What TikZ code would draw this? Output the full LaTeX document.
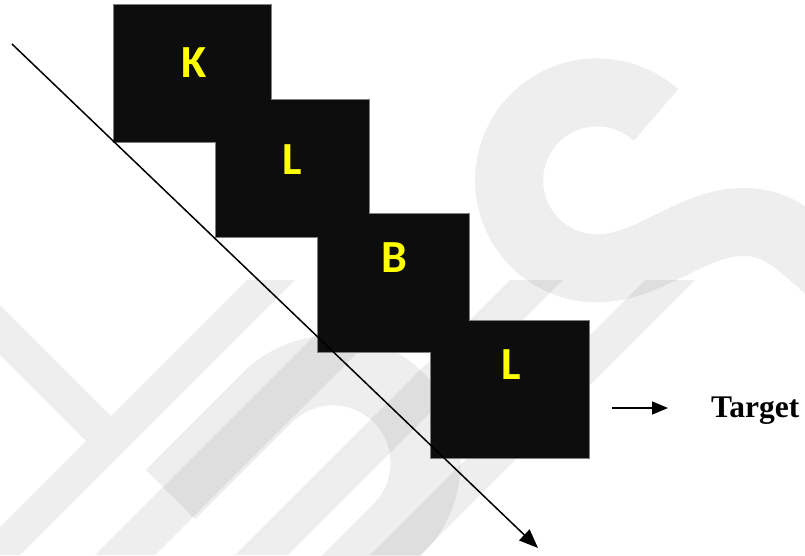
\documentclass[tikz,border=0pt]{standalone}
\usepackage{fontspec}
\setmainfont{Liberation Serif}
\newfontfamily\blockfont{Carlito}
\usetikzlibrary{arrows.meta}
\definecolor{blockblack}{HTML}{0D0D0D}
\definecolor{edgegray}{HTML}{7F7F7F}
\definecolor{letteryellow}{HTML}{FFFF00}
\begin{document}
\begin{tikzpicture}[x=1pt,y=-1pt,
  wmfill/.style={fill=black,fill opacity=0.065,draw=none},
  wmband/.style={draw=black,draw opacity=0.065,line cap=butt,line join=round},
  block/.style={rectangle,inner sep=0pt,outer sep=0pt,anchor=north west,
    fill=blockblack,draw=edgegray,line width=1.6pt},
  letter/.style={inner sep=0pt,text=letteryellow,
    font=\blockfont\bfseries\fontsize{46}{46}\selectfont},
  label/.style={inner sep=0pt,font=\bfseries\fontsize{31.5}{31.5}\selectfont},
  flow/.style={line width=1.5pt,-{Triangle[length=19pt,width=15pt]}},
  pointer/.style={line width=1.5pt,-{Triangle[length=16pt,width=13pt]}}]
\useasboundingbox (0,0) rectangle (805,555);

% light background emblem
\begin{scope}
  \clip (0,0) rectangle (805,555);
  \fill[wmfill] (-10,295) -- (111,416) -- (86,441) -- (-10,345) -- cycle;
  \fill[wmfill] (247,280) -- (295,280) -- (20,555) -- (-28,555) -- cycle;
  \fill[wmfill] (370,280) -- (430,280) -- (155,555) -- (95,555) -- cycle;
  \fill[wmfill] (510,280) -- (563,280) -- (288,555) -- (235,555) -- cycle;
  \fill[wmfill] (645,280) -- (695,280) -- (420,555) -- (370,555) -- cycle;
  \draw[wmband,line width=70pt] (170.5,494.5) -- (267.5,397.5)
    arc[start angle=-135,end angle=45,radius=92.6] -- ++(-200,200);
  \draw[wmband,line width=68pt] (656,115)
    arc[start angle=-48,end angle=-270,radius=88]
    .. controls (650,268) and (690,223) .. (742,222)
    .. controls (780,221) and (800,245) .. (830,270);
\end{scope}

% stepped blocks
\node[block,minimum width=157pt,minimum height=137pt] (b1) at (114,5) {};
\node[block,minimum width=153pt,minimum height=137pt] (b2) at (216,100) {};
\node[block,minimum width=151pt,minimum height=138pt] (b3) at (318,214) {};
\node[block,minimum width=158pt,minimum height=137pt] (b4) at (431,321) {};
\foreach \b in {b1,b2,b3,b4}
  \fill[blockblack] (\b.north west) rectangle (\b.south east);

\node[letter] (k)  at (194,63)  {K};
\node[letter] (l1) at (292,160) {L};
\node[letter] (bb) at (394.5,258) {B};
\node[letter] (l2) at (511.5,365) {L};

% diagonal arrow
\coordinate (start) at (12,44);
\coordinate (end) at (538,548);
\draw[flow] (start) -- (end);

% target marker
\node[label,anchor=base west] (tgt) at (711,417) {Target};
\coordinate (tail) at (612,408);
\draw[pointer,shorten >=43pt] (tail) -- (tail -| tgt.west);
\end{tikzpicture}
\end{document}
